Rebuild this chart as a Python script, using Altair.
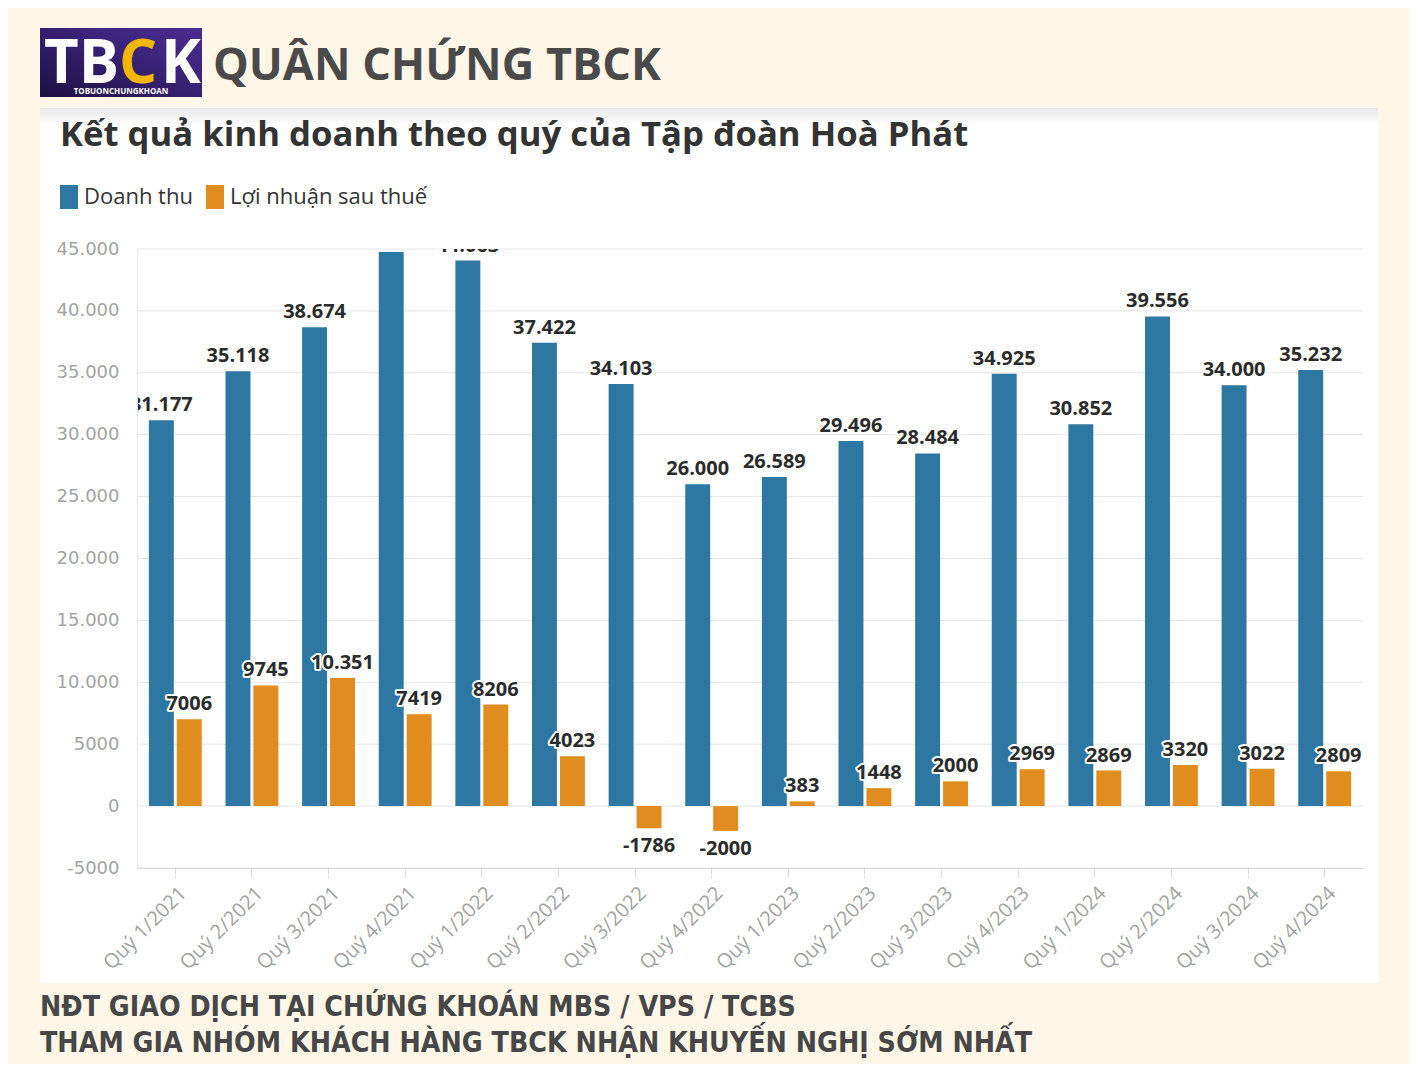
import altair as alt
import pandas as pd

quarters = ["Quý 1/2021", "Quý 2/2021", "Quý 3/2021", "Quý 4/2021",
            "Quý 1/2022", "Quý 2/2022", "Quý 3/2022", "Quý 4/2022",
            "Quý 1/2023", "Quý 2/2023", "Quý 3/2023", "Quý 4/2023",
            "Quý 1/2024", "Quý 2/2024", "Quý 3/2024", "Quý 4/2024"]
revenue = [31177, 35118, 38674, 44764, 44063, 37422, 34103, 26000,
           26589, 29496, 28484, 34925, 30852, 39556, 34000, 35232]
profit = [7006, 9745, 10351, 7419, 8206, 4023, -1786, -2000,
          383, 1448, 2000, 2969, 2869, 3320, 3022, 2809]
series_names = ["Doanh thu", "Lợi nhuận sau thuế"]
series_colors = ["#2e77a2", "#e08c1e"]
y_ticks = [-5000, 0, 5000, 10000, 15000, 20000, 25000, 30000, 35000, 40000, 45000]

header_text = "QUÂN CHỨNG TBCK"
title_text = "Kết quả kinh doanh theo quý của Tập đoàn Hoà Phát"
footer_1 = "NĐT GIAO DỊCH TẠI CHỨNG KHOÁN MBS / VPS / TCBS"
footer_2 = "THAM GIA NHÓM KHÁCH HÀNG TBCK NHẬN KHUYẾN NGHỊ SỚM NHẤT"
logo_sub = "TOBUONCHUNGKHOAN"


def fmt(v):
    a = abs(v)
    s = f"{a:,}".replace(",", ".") if a >= 10000 else str(a)
    return ("-" if v < 0 else "") + s


rows = []
for q, r, p in zip(quarters, revenue, profit):
    rows.append({"quarter": q, "series": series_names[0], "value": r, "label": fmt(r)})
    rows.append({"quarter": q, "series": series_names[1], "value": p, "label": fmt(p)})
df = pd.DataFrame(rows)
one = pd.DataFrame({"k": [0]})

W, H = 1226, 619
yscale = alt.Scale(domain=[-5000, 45000], nice=False, zero=False)
xscale = alt.Scale(domain=quarters, paddingInner=0.31, paddingOuter=0.155)
oscale = alt.Scale(domain=series_names, paddingInner=0.107, paddingOuter=0)

label_expr = ("abs(datum.value) >= 10000 ? replace(format(datum.value, ','), ',', '.')"
              " : '' + datum.value")
x_axis = alt.Axis(
    title=None, labelAngle=-45, labelAlign="right", labelBaseline="middle",
    labelFontSize=20, labelFont="Open Sans", labelColor="#a3a3a3",
    domainColor="#d9d9d9", tickColor="#dddddd", tickSize=10,
    labelPadding=12, labelOffset=8, grid=False, zindex=1)
y_axis = alt.Axis(
    title=None, values=y_ticks, labelExpr=label_expr, labelFontSize=18,
    labelFont="DejaVu Sans", labelColor="#a3a3a3", ticks=False,
    domain=True, domainColor="#e6e6e6", labelPadding=18, grid=False, zindex=1)


def box(x1, x2, y1, y2, color):
    return alt.Chart(one).mark_rect(color=color).encode(
        x=alt.value(x1), x2=alt.value(x2), y=alt.value(y1), y2=alt.value(y2))


def txt(s, x, y, size, color, weight="bold", font="Open Sans", align="left"):
    return alt.Chart(one).mark_text(
        text=s, align=align, baseline="alphabetic", fontSize=size,
        fontWeight=weight, font=font, color=color
    ).encode(x=alt.value(x), y=alt.value(y))


panel = box(-97, 1241, -141, 734, "#ffffff")
panel_top = box(-97, 1241, -141, -124, alt.Gradient(
    gradient="linear", x1=0, x2=0, y1=0, y2=1,
    stops=[alt.GradientStop(color="#e8e8e8", offset=0),
           alt.GradientStop(color="#ffffff", offset=1)]))
logo_bg = box(-97, 65, -221, -152, alt.Gradient(
    gradient="linear", x1=0, x2=1, y1=1, y2=0,
    stops=[alt.GradientStop(color="#1c1040", offset=0),
           alt.GradientStop(color="#3a2379", offset=0.6),
           alt.GradientStop(color="#4b2c90", offset=1)]))
logo_tb = txt("TB", -93, -166, 60, "#ffffff")
logo_c = txt("C", -18, -166, 60, "#f2b705")
logo_k = txt("K", 24, -166, 60, "#ffffff")
logo_s = txt(logo_sub, -16, -155, 8, "#ffffff", align="center")
header = txt(header_text, 76, -169, 45, "#4a4a4a")
title = txt(title_text, -77, -103, 34.7, "#333333")
foot1 = txt(footer_1, -97, 767, 28.3, "#474747", font="DejaVu Sans Condensed")
foot2 = txt(footer_2, -97, 803, 28.3, "#474747", font="DejaVu Sans Condensed")

grid = alt.Chart(pd.DataFrame({"value": y_ticks})).mark_rule(
    color="#e6e6e6", strokeWidth=1
).encode(y=alt.Y("value:Q", scale=yscale, axis=y_axis), x=alt.value(0), x2=alt.value(W))

bars = alt.Chart(df).mark_bar().encode(
    x=alt.X("quarter:N", sort=quarters, scale=xscale, axis=x_axis),
    xOffset=alt.XOffset("series:N", sort=series_names, scale=oscale),
    y=alt.Y("value:Q", scale=yscale, axis=y_axis),
    color=alt.Color("series:N", sort=series_names,
                    scale=alt.Scale(domain=series_names, range=series_colors),
                    legend=alt.Legend(
                        title=None, orient="none", legendX=-80, legendY=-64,
                        direction="horizontal", symbolType="M-0.75,-1H0.75V1H-0.75Z",
                        symbolSize=576, symbolStrokeWidth=0, labelFontSize=22,
                        labelFont="Open Sans", labelColor="#333333", labelLimit=400,
                        columnPadding=10, labelOffset=3)),
)


def labels(cond, baseline, dy, halo):
    kw = dict(baseline=baseline, dy=dy, fontSize=20, fontWeight="bold",
              font="Open Sans", clip=True)
    if halo:
        kw.update(stroke="#ffffff", strokeWidth=4, strokeJoin="round", fill="#ffffff")
    else:
        kw.update(fill="#2b2b2b")
    return alt.Chart(df).transform_filter(cond).mark_text(**kw).encode(
        x=alt.X("quarter:N", sort=quarters, scale=xscale, axis=x_axis),
        xOffset=alt.XOffset("series:N", sort=series_names, scale=oscale),
        y=alt.Y("value:Q", scale=yscale, axis=y_axis),
        text="label:N")


layers = [panel, panel_top, logo_bg, logo_tb, logo_c, logo_k, logo_s, header, title,
          foot1, foot2, grid, bars,
          labels("datum.value >= 0", "alphabetic", -9, True),
          labels("datum.value >= 0", "alphabetic", -9, False),
          labels("datum.value < 0", "top", 8, True),
          labels("datum.value < 0", "top", 8, False)]

chart = alt.layer(*layers).properties(
    width=W, height=H,
    autosize=alt.AutoSizeParams(type="none"),
    padding={"left": 129, "top": 241, "right": 46, "bottom": 196},
).configure(background="#fef7e8").configure_view(strokeWidth=0)

chart.save("out.html", embed_options={"renderer": "svg", "actions": False})
